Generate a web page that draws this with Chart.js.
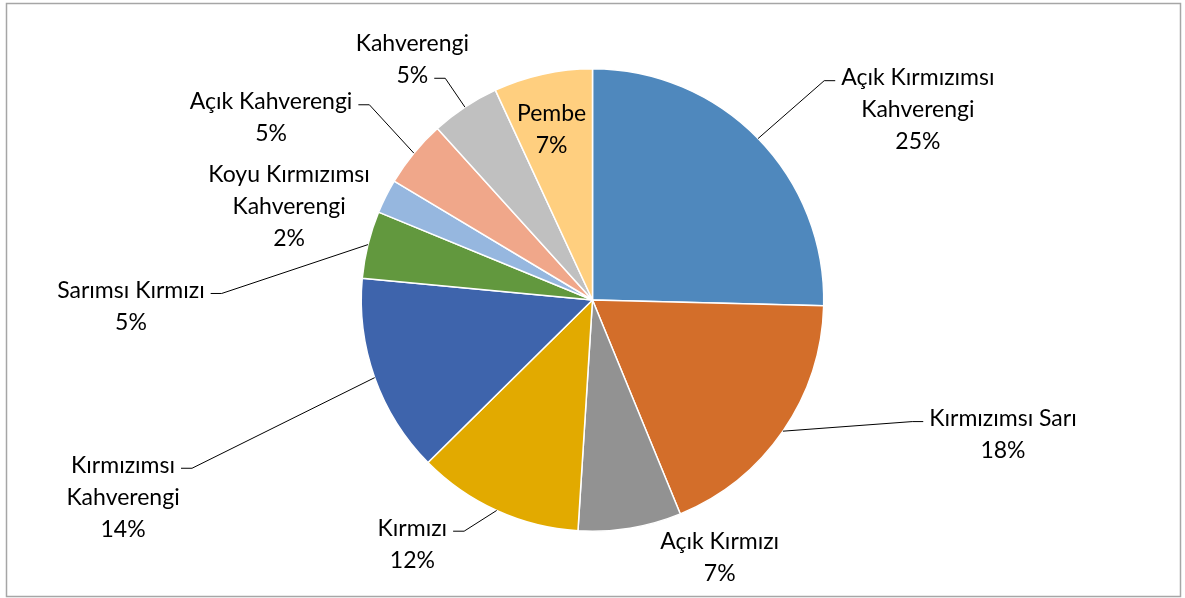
<!DOCTYPE html>
<html>
<head>
<meta charset="utf-8">
<script src="https://cdn.jsdelivr.net/npm/chart.js@4.4.1/dist/chart.umd.min.js"></script>
<style>
  body { margin: 0; background: #fff; }
  canvas { display: block; }
</style>
</head>
<body>
<canvas id="myChart" width="1185" height="598"></canvas>
<script>
// data
var categories = [
    ["Açık Kırmızımsı", "Kahverengi"],
    "Kırmızımsı Sarı",
    "Açık Kırmızı",
    "Kırmızı",
    ["Kırmızımsı", "Kahverengi"],
    "Sarımsı Kırmızı",
    ["Koyu Kırmızımsı", "Kahverengi"],
    "Açık Kahverengi",
    "Kahverengi",
    "Pembe"
];
var shares = [25.4, 18.4, 7.2, 11.6, 13.9, 4.7, 2.4, 4.7, 4.8, 6.9];
var sliceColors = ["#4f88bd", "#d36e2a", "#929292", "#e2aa00", "#3e64ac",
                   "#62983e", "#96b7df", "#f0a78a", "#c0c0c0", "#ffcf7f"];

// label placement: centre of the text block relative to pie centre, in radius units,
// which text line the leader line hangs from, and on which side (0 = no leader)
var labelPos = [
    [1.407, -0.823, 0, -1],
    [1.775, 0.582, 0, -1],
    [0.550, 1.115, 0, 0],
    [-0.779, 1.056, 0, 1],
    [-2.030, 0.853, 0, 1],
    [-1.996, 0.028, 0, 1],
    [-1.312, -0.403, 0, 0],
    [-1.390, -0.788, 0, 1],
    [-0.779, -1.041, 1, 1],
    [-0.177, -0.738, 0, 0]
];

var FONT = "23px Lato, 'Open Sans', sans-serif";
var LINE_H = 32;

var frame = {
    id: 'frame',
    beforeDraw: function (chart) {
        var c = chart.ctx;
        c.save();
        c.fillStyle = '#fff';
        c.fillRect(0, 0, chart.width, chart.height);
        c.strokeStyle = '#a6a6a6';
        c.lineWidth = 1.5;
        c.strokeRect(6.5, 3.5, 1174, 593);
        c.restore();
    }
};

var sliceLabels = {
    id: 'sliceLabels',
    afterDatasetsDraw: function (chart) {
        var c = chart.ctx;
        var meta = chart.getDatasetMeta(0);
        var total = shares.reduce(function (a, b) { return a + b; }, 0);
        c.save();
        c.font = FONT;
        c.fillStyle = '#000';
        c.textAlign = 'center';
        c.textBaseline = 'middle';
        meta.data.forEach(function (arc, i) {
            var p = arc.getProps(['x', 'y', 'startAngle', 'endAngle', 'outerRadius'], true);
            var r = p.outerRadius;
            var name = categories[i];
            var lines = (Array.isArray(name) ? name.slice() : [name]);
            lines.push(Math.round(shares[i] / total * 100) + '%');
            var pos = labelPos[i];
            var cx = p.x + pos[0] * r;
            var cy = p.y + pos[1] * r;
            var top = cy - (lines.length - 1) * LINE_H / 2;
            lines.forEach(function (t, k) {
                c.fillText(t, cx, top + k * LINE_H);
            });
            if (pos[3] !== 0) {
                var ly = top + pos[2] * LINE_H + 3;
                var w = c.measureText(lines[pos[2]]).width;
                var x0 = cx + pos[3] * (w / 2 + 6);
                var x1 = x0 + pos[3] * 11;
                var mid = (p.startAngle + p.endAngle) / 2;
                var ax = p.x + Math.cos(mid) * r;
                var ay = p.y + Math.sin(mid) * r;
                c.beginPath();
                c.strokeStyle = '#000';
                c.lineWidth = 1;
                c.moveTo(x0, ly);
                c.lineTo(x1, ly);
                c.lineTo(ax, ay);
                c.stroke();
            }
        });
        c.restore();
    }
};

window.onload = function ()
{
    var ctxP = document.getElementById("myChart").getContext('2d');
    new Chart(ctxP, {
        type: 'pie',
        data: {
            labels: categories,
            datasets: [{
                data: shares,
                backgroundColor: sliceColors,
                borderColor: '#ffffff',
                borderWidth: 1.5
            }]
        },
        options: {
            responsive: false,
            animation: false,
            layout: { padding: { top: 68, bottom: 66, left: 0, right: 0 } },
            plugins: {
                legend: { display: false },
                tooltip: { enabled: false }
            }
        },
        plugins: [frame, sliceLabels]
    });
};
</script>
</body>
</html>
